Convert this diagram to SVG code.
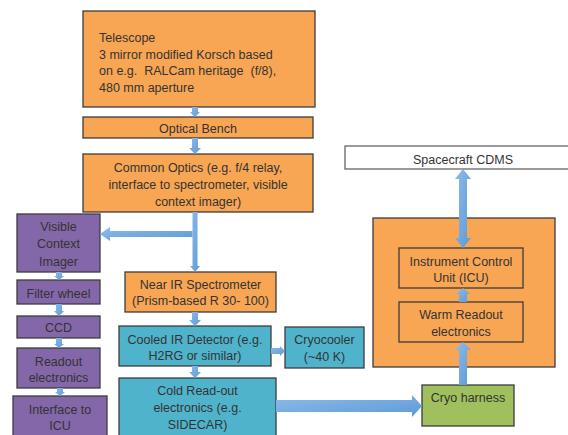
<svg xmlns="http://www.w3.org/2000/svg" width="568" height="435" viewBox="0 0 568 435">
<defs>
<linearGradient id="ag" x1="0" y1="0" x2="1" y2="1">
<stop offset="0" stop-color="#8dbbea"/><stop offset="1" stop-color="#5d9ad6"/>
</linearGradient>
<style>
.box{stroke:#3c3c3c;stroke-width:1.3}
.or{fill:#f8a653}
.pu{fill:#8467a8}
.te{fill:#4fb3cc}
.gr{fill:#9fc05d}
.wh{fill:#ffffff;stroke:#666}
text{font-family:"Liberation Sans",Arial,sans-serif;font-size:12.5px;fill:#333333}
.c{text-anchor:middle}
.arr{fill:url(#ag);stroke:none}
</style>
</defs>
<rect width="568" height="435" fill="#ffffff"/>
<g id="telescope">
<rect class="box or" x="83" y="11" width="232" height="96"/>
<text x="99" y="42">Telescope</text>
<text x="99" y="58.5">3 mirror modified Korsch based</text>
<text x="99" y="75" xml:space="preserve">on e.g.  RALCam heritage  (f/8),</text>
<text x="99" y="91.5">480 mm aperture</text>
</g>
<g id="optical-bench">
<rect class="box or" x="83" y="117" width="230" height="21"/>
<text class="c" x="198" y="133">Optical Bench</text>
</g>
<g id="common-optics">
<rect class="box or" x="83" y="154" width="230" height="58"/>
<text class="c" x="198" y="172">Common Optics (e.g. f/4 relay,</text>
<text class="c" x="198" y="189">interface to spectrometer, visible</text>
<text class="c" x="198" y="206">context imager)</text>
</g>
<g id="visible-context-imager">
<rect class="box pu" x="17" y="214" width="83" height="58"/>
<text class="c" x="58.5" y="231">Visible</text>
<text class="c" x="58.5" y="248">Context</text>
<text class="c" x="58.5" y="266">Imager</text>
</g>
<g id="filter-wheel">
<rect class="box pu" x="17" y="280" width="83" height="24"/>
<text class="c" x="58.5" y="298">Filter wheel</text>
</g>
<g id="ccd">
<rect class="box pu" x="17" y="316" width="83" height="22"/>
<text class="c" x="58.5" y="332">CCD</text>
</g>
<g id="readout-electronics">
<rect class="box pu" x="17" y="348" width="83" height="40"/>
<text class="c" x="58.5" y="366">Readout</text>
<text class="c" x="58.5" y="382">electronics</text>
</g>
<g id="interface-to-icu">
<rect class="box pu" x="13" y="396" width="94" height="45"/>
<text class="c" x="60" y="414">Interface to</text>
<text class="c" x="60" y="430">ICU</text>
</g>
<g id="near-ir-spectrometer">
<rect class="box or" x="125" y="272" width="151" height="40"/>
<text class="c" x="200.5" y="289">Near IR Spectrometer</text>
<text class="c" x="200.5" y="305">(Prism-based R 30- 100)</text>
</g>
<g id="cooled-ir-detector">
<rect class="box te" x="119" y="326" width="152" height="40"/>
<text class="c" x="195" y="344">Cooled IR Detector (e.g.</text>
<text class="c" x="195" y="360">H2RG or similar)</text>
</g>
<g id="cold-readout">
<rect class="box te" x="119" y="378" width="157" height="62"/>
<text class="c" x="197.5" y="395">Cold Read-out</text>
<text class="c" x="197.5" y="412">electronics (e.g.</text>
<text class="c" x="197.5" y="429">SIDECAR)</text>
</g>
<g id="cryocooler">
<rect class="box te" x="285" y="327" width="79" height="41"/>
<text class="c" x="324.5" y="344">Cryocooler</text>
<text class="c" x="324.5" y="361">(~40 K)</text>
</g>
<g id="spacecraft-cdms">
<rect class="box wh" x="345" y="146" width="228" height="23"/>
<text class="c" x="463" y="164">Spacecraft CDMS</text>
</g>
<g id="icu-enclosure">
<rect class="box or" x="373" y="218" width="182" height="149"/>
</g>
<g id="icu">
<rect class="box or" x="399" y="248" width="124" height="40"/>
<text class="c" x="461" y="266">Instrument Control</text>
<text class="c" x="461" y="282">Unit (ICU)</text>
</g>
<g id="warm-readout">
<rect class="box or" x="399" y="302" width="124" height="40"/>
<text class="c" x="461" y="319">Warm Readout</text>
<text class="c" x="461" y="336">electronics</text>
</g>
<g id="cryo-harness">
<rect class="box gr" x="422" y="385" width="92" height="41"/>
<text class="c" x="468" y="402">Cryo harness</text>
</g>
<g id="connectors">
<polygon class="arr" points="192,107 198,107 198,112 200,112 195,117 190,112 192,112"/>
<polygon class="arr" points="192,138 198,138 198,148 201,148 195,154 189,148 192,148"/>
<polygon class="arr" points="192.5,212 197.5,212 197.5,266 200,266 195,272 190,266 192.5,266"/>
<polygon class="arr" points="192.5,231 192.5,237 110,237 110,241 100,234 110,227 110,231"/>
<polygon class="arr" points="192,312 198,312 198,320 201,320 195,326 189,320 192,320"/>
<polygon class="arr" points="192,366 198,366 198,372 201,372 195,378 189,372 192,372"/>
<polygon class="arr" points="271,348 280,348 280,346 285,351 280,356 280,354 271,354"/>
<polygon class="arr" points="276,400 412,400 412,395 422,406 412,417 412,412 276,412"/>
<polygon class="arr" points="459,385 467,385 467,350 471,350 463,342 455,350 459,350"/>
<polygon class="arr" points="459,302 467,302 467,294 470,294 463,288 456,294 459,294"/>
<polygon class="arr" points="463,169 471,179 467,179 467,238 471,238 463,248 455,238 459,238 459,179 455,179"/>
<polygon class="arr" points="56,272 62,272 62,276 64,276 59,280 54,276 56,276"/>
<polygon class="arr" points="56,304 62,304 62,311 64,311 59,316 54,311 56,311"/>
<polygon class="arr" points="56,338 62,338 62,344 64,344 59,348 54,344 56,344"/>
<polygon class="arr" points="57,388 63,388 63,392 65,392 60,396 55,392 57,392"/>
</g>
</svg>
